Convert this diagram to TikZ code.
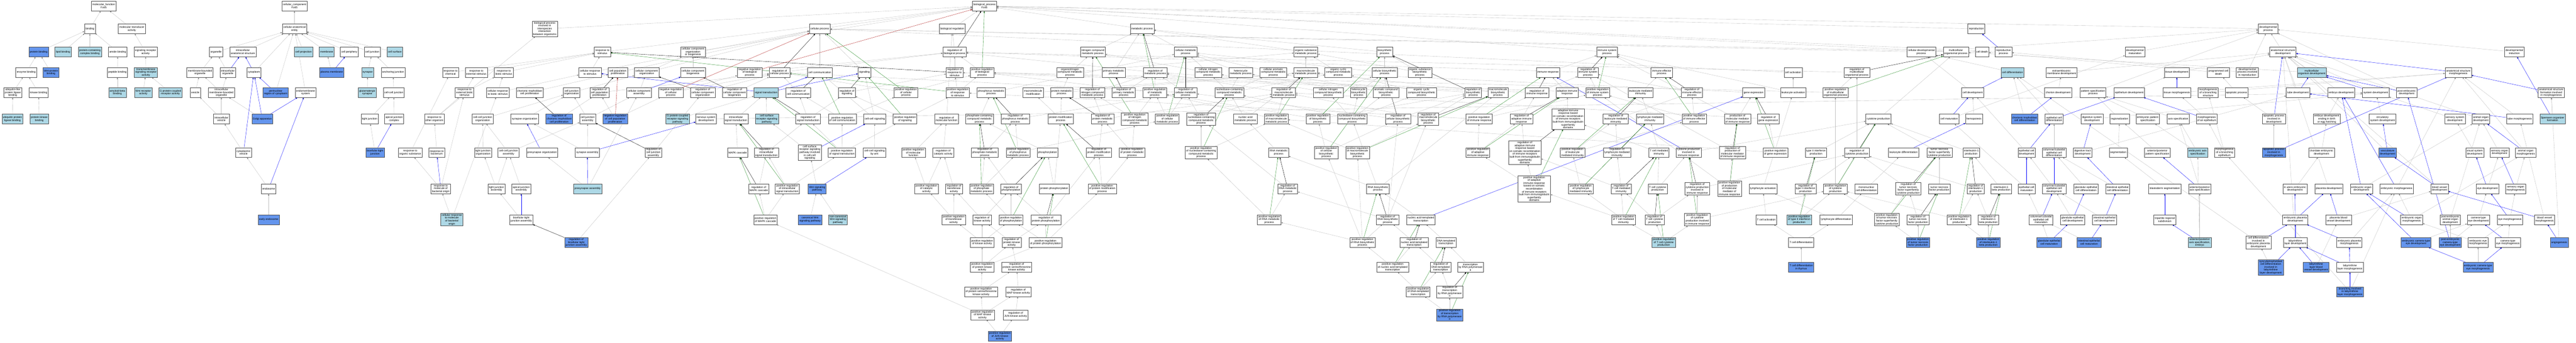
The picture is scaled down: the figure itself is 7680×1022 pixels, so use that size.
\documentclass[tikz,border=0pt]{standalone}
\usepackage{fontspec}
\setmainfont{Liberation Sans}
\usetikzlibrary{arrows.meta,backgrounds}
\definecolor{lightgo}{HTML}{ADD8E6}
\definecolor{darkgo}{HTML}{6495ED}
\definecolor{isagray}{HTML}{C0C0C0}
\definecolor{posgreen}{HTML}{228B22}
\definecolor{negred}{HTML}{B22222}
\begin{document}
\begin{tikzpicture}[x=1pt,y=-1pt,
  term/.style={draw=black!70,line width=0.7pt,fill=white,font=\fontsize{8}{8.6}\selectfont,
    align=center,inner xsep=3pt,inner ysep=2pt,minimum height=29pt},
  light/.style={term,fill=lightgo},
  dark/.style={term,fill=darkgo},
  isa/.style={draw=isagray,line width=0.6pt,-{Triangle[length=5pt,width=4pt]}},
  partof/.style={isa,draw=blue},
  regs/.style={isa,draw=black},
  posreg/.style={isa,draw=posgreen},
  negreg/.style={isa,draw=negred}]
\useasboundingbox (0,0) rectangle (7680,1022);

\node[term] (mf) at (309,18) {molecular\_function\\Fzd5};
\node[term] (bind) at (268,86) {binding};
\node[term] (mta) at (393,86) {molecular transducer\\activity};
\node[dark] (pb) at (115,155) {protein binding};
\node[light] (lipb) at (188,155) {lipid binding};
\node[light] (pccb) at (268,155) {protein-containing\\complex binding};
\node[term] (amb) at (351,155) {amide binding};
\node[term] (sra) at (434,155) {signaling receptor\\activity};
\node[term] (enzb) at (78,216) {enzyme binding};
\node[dark] (wntpb) at (152,216) {Wnt-protein\\binding};
\node[term] (pepb) at (350,216) {peptide binding};
\node[light] (tsra) at (435,216) {transmembrane\\signaling receptor\\activity};
\node[term] (ublb) at (38,276) {ubiquitin-like\\protein ligase\\binding};
\node[term] (kinb) at (115,276) {kinase binding};
\node[light] (abb) at (350,276) {amyloid-beta\\binding};
\node[light] (wntra) at (427,276) {Wnt receptor\\activity};
\node[light] (gpcra) at (508,276) {G protein-coupled\\receptor activity};
\node[light] (ubplb) at (37,355) {ubiquitin protein\\ligase binding};
\node[light] (pkb) at (117,355) {protein kinase\\binding};

\node[term] (cc) at (878,18) {cellular\_component\\Fzd5};
\node[term] (cae) at (878,86) {cellular anatomical\\entity};
\node[term] (org) at (644,155) {organelle};
\node[term] (ias) at (724,155) {intracellular\\anatomical structure};
\node[light] (cproj) at (905,155) {cell projection};
\node[light] (memb) at (974,155) {membrane};
\node[term] (cperi) at (1041,155) {cell periphery};
\node[term] (cjunc) at (1110,155) {cell junction};
\node[light] (csurf) at (1177,155) {cell surface};
\node[term] (mbo) at (596,216) {membrane-bounded\\organelle};
\node[term] (iorg) at (679,216) {intracellular\\organelle};
\node[term] (cyto) at (757,216) {cytoplasm};
\node[dark] (pmemb) at (989,216) {plasma membrane};
\node[light] (syn) at (1096,216) {synapse};
\node[term] (anchj) at (1172,216) {anchoring junction};
\node[term] (ves) at (582,276) {vesicle};
\node[term] (imbo) at (660,276) {intracellular\\membrane-bounded\\organelle};
\node[dark] (perinuc) at (822,276) {perinuclear\\region of cytoplasm};
\node[term] (endomem) at (911,276) {endomembrane\\system};
\node[light] (glusyn) at (1095,276) {glutamatergic\\synapse};
\node[term] (ccj) at (1174,276) {cell-cell junction};
\node[term] (ives) at (660,355) {intracellular\\vesicle};
\node[dark] (golgi) at (782,355) {Golgi apparatus};
\node[term] (tj) at (1102,355) {tight junction};
\node[term] (ajc) at (1175,355) {apical junction\\complex};
\node[term] (cves) at (726,455) {cytoplasmic\\vesicle};
\node[dark] (btj) at (1118,455) {bicellular tight\\junction};
\node[term] (endos) at (801,563) {endosome};
\node[dark] (eendos) at (801,655) {early endosome};

\node[term] (bp) at (2935,18) {biological\_process\\Fzd5};
\node[term] (bpii) at (1624,86) {biological process\\involved in\\interspecies\\interaction\\between organisms};
\node[term] (cp) at (2444,86) {cellular process};
\node[term] (breg) at (2839,86) {biological regulation};
\node[term] (mp) at (3405,86) {metabolic process};
\node[term] (repro) at (5892,86) {reproduction};
\node[term] (dp) at (6762,86) {developmental\\process};

\node[term] (rs) at (1796,155) {response to\\stimulus};
\node[term] (ccob) at (2066,155) {cellular component\\organization\\or biogenesis};
\node[term] (rbp) at (2846,155) {regulation of\\biological process};
\node[term] (ncmp) at (3258,155) {nitrogen compound\\metabolic process};
\node[term] (cmp) at (3535,155) {cellular metabolic\\process};
\node[term] (osmp) at (3893,155) {organic substance\\metabolic process};
\node[term] (biosp) at (4128,155) {biosynthetic\\process};
\node[term] (isp) at (4791,155) {immune system\\process};
\node[term] (cdevp) at (5728,155) {cellular developmental\\process};
\node[term] (mop) at (5831,155) {multicellular\\organismal process};
\node[term] (cdeath) at (5909,155) {cell death};
\node[term] (reprop) at (5973,155) {reproductive\\process};
\node[term] (devmat) at (6365,155) {developmental\\maturation};
\node[term] (asd) at (6806,155) {anatomical structure\\development};
\node[term] (devind) at (7496,155) {developmental\\induction};

\node[term] (rchem) at (1343,216) {response to\\chemical};
\node[term] (rext) at (1420,216) {response to\\external stimulus};
\node[term] (rbio) at (1502,216) {response to\\biotic stimulus};
\node[term] (crs) at (1759,216) {cellular response\\to stimulus};
\node[term] (cpp) at (1842,216) {cell population\\proliferation};
\node[term] (cco) at (1928,216) {cellular component\\organization};
\node[term] (ccb) at (2066,216) {cellular component\\biogenesis};
\node[term] (nrbp) at (2235,216) {negative regulation\\of biological\\process};
\node[term] (rcp) at (2324,216) {regulation of\\cellular process};
\node[term] (ccomm) at (2444,216) {cell communication};
\node[term] (sig) at (2577,216) {signaling};
\node[term] (rrs) at (2846,216) {regulation of\\response to\\stimulus};
\node[term] (prbp) at (2928,216) {positive regulation\\of biological\\process};
\node[term] (oncmp) at (3190,216) {organonitrogen\\compound metabolic\\process};
\node[term] (pmp) at (3320,216) {primary metabolic\\process};
\node[term] (rmp) at (3444,216) {regulation of\\metabolic process};
\node[term] (cncmp) at (3602,216) {cellular nitrogen\\compound metabolic\\process};
\node[term] (hmp) at (3699,216) {heterocycle\\metabolic process};
\node[term] (cacmp) at (3796,216) {cellular aromatic\\compound metabolic\\process};
\node[term] (mmp) at (3893,216) {macromolecule\\metabolic process};
\node[term] (ocmp) at (3990,216) {organic cyclic\\compound metabolic\\process};
\node[term] (cbiosp) at (4128,216) {cellular biosynthetic\\process};
\node[term] (osbp) at (4233,216) {organic substance\\biosynthetic\\process};
\node[term] (ir) at (4615,216) {immune response};
\node[term] (risp) at (4734,216) {regulation of\\immune system\\process};
\node[term] (iep) at (4954,216) {immune effector\\process};
\node[term] (cact) at (5346,216) {cell activation};
\node[term] (rmop) at (5536,216) {regulation of\\multicellular\\organismal process};
\node[light] (cdiff) at (6000,216) {cell differentiation};
\node[term] (emd) at (6146,216) {extraembryonic\\membrane development};
\node[term] (tisd) at (6490,216) {tissue development};
\node[term] (pcd) at (6614,216) {programmed cell\\death};
\node[term] (dpir) at (6700,216) {developmental\\process involved\\in reproduction};
\node[light] (modev) at (6892,216) {multicellular\\organism development};
\node[term] (asm) at (7329,216) {anatomical structure\\morphogenesis};

\node[term] (rebs) at (1385,276) {response to\\external biotic\\stimulus};
\node[term] (crbs) at (1484,276) {cellular response\\to biotic stimulus};
\node[term] (ctcp) at (1579,276) {chorionic trophoblast\\cell proliferation};
\node[term] (cjo) at (1704,276) {cell junction\\organization};
\node[term] (rcpp) at (1787,276) {regulation of\\cell population\\proliferation};
\node[term] (cca) at (1905,276) {cellular component\\assembly};
\node[term] (nrcp) at (2000,276) {negative regulation\\of cellular\\process};
\node[term] (rcco) at (2095,276) {regulation of\\cellular component\\organization};
\node[term] (rccb) at (2190,276) {regulation of\\cellular component\\biogenesis};
\node[light] (st) at (2284,276) {signal transduction};
\node[term] (rcc) at (2380,276) {regulation of\\cell communication};
\node[term] (rsig) at (2525,276) {regulation of\\signaling};
\node[term] (prcp) at (2701,276) {positive regulation\\of cellular\\process};
\node[term] (prrs) at (2855,276) {positive regulation\\of response\\to stimulus};
\node[term] (phmp) at (2955,276) {phosphorus metabolic\\process};
\node[term] (mmod) at (3080,276) {macromolecule\\modification};
\node[term] (protmp) at (3165,276) {protein metabolic\\process};
\node[term] (rncmp) at (3257,276) {regulation of\\nitrogen compound\\metabolic process};
\node[term] (rpmp) at (3350,276) {regulation of\\primary metabolic\\process};
\node[term] (prmp) at (3443,276) {positive regulation\\of metabolic\\process};
\node[term] (rcmp) at (3535,276) {regulation of\\cellular metabolic\\process};
\node[term] (nccmp) at (3665,276) {nucleobase-containing\\compound metabolic\\process};
\node[term] (rmmp) at (3827,276) {regulation of\\macromolecule\\metabolic process};
\node[term] (cncbp) at (3960,276) {cellular nitrogen\\compound biosynthetic\\process};
\node[term] (hbp) at (4050,276) {heterocycle\\biosynthetic\\process};
\node[term] (acbp) at (4132,276) {aromatic compound\\biosynthetic\\process};
\node[term] (ocbp) at (4238,276) {organic cyclic\\compound biosynthetic\\process};
\node[term] (rbiosp) at (4392,276) {regulation of\\biosynthetic\\process};
\node[term] (mbp) at (4466,276) {macromolecule\\biosynthetic\\process};
\node[term] (rir) at (4582,276) {regulation of\\immune response};
\node[term] (air) at (4672,276) {adaptive immune\\response};
\node[term] (prisp) at (4763,276) {positive regulation\\of immune system\\process};
\node[term] (lmi) at (4891,276) {leukocyte mediated\\immunity};
\node[term] (riep) at (5044,276) {regulation of\\immune effector\\process};
\node[term] (gexp) at (5228,276) {gene expression};
\node[term] (lact) at (5346,276) {leukocyte activation};
\node[term] (prmop) at (5472,276) {positive regulation\\of multicellular\\organismal process};
\node[term] (celld) at (5881,276) {cell development};
\node[term] (chord) at (6136,276) {chorion development};
\node[term] (psp) at (6240,276) {pattern specification\\process};
\node[term] (epid) at (6348,276) {epithelium development};
\node[term] (tism) at (6490,276) {tissue morphogenesis};
\node[term] (mbs) at (6583,276) {morphogenesis\\of a branching\\structure};
\node[term] (app) at (6668,276) {apoptotic process};
\node[term] (tubed) at (6851,276) {tube development};
\node[term] (embd) at (6980,276) {embryo development};
\node[term] (sysd) at (7083,276) {system development};
\node[term] (ped) at (7175,276) {post-embryonic\\development};
\node[term] (asfim) at (7606,276) {anatomical structure\\formation involved\\in morphogenesis};

\node[term] (rother) at (1295,355) {response to\\other organism};
\node[term] (ccjo) at (1439,355) {cell-cell junction\\organization};
\node[term] (synorg) at (1564,355) {synapse organization};
\node[dark] (rctcp) at (1667,355) {regulation of\\chorionic trophoblast\\cell proliferation};
\node[term] (cja) at (1752,355) {cell junction\\assembly};
\node[dark] (nrcpp) at (1834,355) {negative regulation\\of cell population\\proliferation};
\node[light] (gpcrsp) at (2020,355) {G protein-coupled\\receptor signaling\\pathway};
\node[term] (nsd) at (2105,355) {nervous system\\development};
\node[term] (ist) at (2194,355) {intracellular\\signal transduction};
\node[light] (csrsp) at (2286,355) {cell surface\\receptor signaling\\pathway};
\node[term] (rst) at (2409,355) {regulation of\\signal transduction};
\node[term] (prcc) at (2511,355) {positive regulation\\of cell communication};
\node[term] (ccs) at (2608,355) {cell-cell signaling};
\node[term] (prsig) at (2698,355) {positive regulation\\of signaling};
\node[term] (rmf) at (2822,355) {regulation of\\molecular function};
\node[term] (pccmp) at (2920,355) {phosphate-containing\\compound metabolic\\process};
\node[term] (rphmp) at (3027,355) {regulation of\\phosphorus metabolic\\process};
\node[term] (pmodp) at (3162,355) {protein modification\\process};
\node[term] (rprotmp) at (3287,355) {regulation of\\protein metabolic\\process};
\node[term] (prncmp) at (3383,355) {positive regulation\\of nitrogen\\compound metabolic\\process};
\node[term] (prcmp) at (3480,355) {positive regulation\\of cellular\\metabolic process};
\node[term] (rnccmp) at (3581,355) {regulation of\\nucleobase-containing\\compound metabolic\\process};
\node[term] (namp) at (3713,355) {nucleic acid\\metabolic process};
\node[term] (prmmp) at (3805,355) {positive regulation\\of macromolecule\\metabolic process};
\node[term] (prbiosp) at (3929,355) {positive regulation\\of biosynthetic\\process};
\node[term] (nccbp) at (4031,355) {nucleobase-containing\\compound biosynthetic\\process};
\node[term] (rcbp) at (4168,355) {regulation of\\cellular biosynthetic\\process};
\node[term] (rmbp) at (4258,355) {regulation of\\macromolecule\\biosynthetic\\process};
\node[term] (prir) at (4410,355) {positive regulation\\of immune response};
\node[term] (rair) at (4536,355) {regulation of\\adaptive immune\\response};
\node[term] (arsr) at (4675,355) {adaptive immune\\response based\\on somatic recombination\\of immune receptors\\built from immunoglobulin\\superfamily\\domains};
\node[term] (rlmi) at (4817,355) {regulation of\\leukocyte mediated\\immunity};
\node[term] (lymi) at (4919,355) {lymphocyte mediated\\immunity};
\node[term] (priep) at (5051,355) {positive regulation\\of immune effector\\process};
\node[term] (pmmir) at (5180,355) {production of\\molecular mediator\\of immune response};
\node[term] (rgexp) at (5272,355) {regulation of\\gene expression};
\node[term] (cytp) at (5600,355) {cytokine production};
\node[term] (cmat) at (5811,355) {cell maturation};
\node[term] (hemo) at (5885,355) {hemopoiesis};
\node[dark] (ctcd) at (6036,355) {chorionic trophoblast\\cell differentiation};
\node[term] (ecd) at (6124,355) {epithelial cell\\differentiation};
\node[term] (dsd) at (6237,355) {digestive system\\development};
\node[term] (regz) at (6319,355) {regionalization};
\node[term] (eps) at (6403,355) {embryonic pattern\\specification};
\node[term] (axs) at (6494,355) {axis specification};
\node[term] (moe) at (6579,355) {morphogenesis\\of an epithelium};
\node[term] (apid) at (6779,355) {apoptotic process\\involved in\\development};
\node[term] (edebe) at (6937,355) {embryo development\\ending in birth\\or egg hatching};
\node[term] (csd) at (7103,355) {circulatory\\system development};
\node[term] (ssd) at (7319,355) {sensory system\\development};
\node[term] (aod) at (7396,355) {animal organ\\development};
\node[term] (tubm) at (7512,355) {tube morphogenesis};
\node[light] (spem) at (7610,355) {Spemann organizer\\formation};

\node[term] (ros) at (1223,455) {response to\\organic substance};
\node[term] (rbact) at (1302,455) {response to\\bacterium};
\node[term] (tjo) at (1440,455) {tight junction\\organization};
\node[term] (ccja) at (1516,455) {cell-cell junction\\assembly};
\node[term] (psorg) at (1616,455) {presynapse organization};
\node[term] (syna) at (1751,455) {synapse assembly};
\node[term] (rcja) at (1948,455) {regulation of\\cell junction\\assembly};
\node[term] (mapk) at (2199,455) {MAPK cascade};
\node[term] (rist) at (2285,455) {regulation of\\intracellular\\signal transduction};
\node[term] (csccs) at (2414,455) {cell surface\\receptor signaling\\pathway involved\\in cell-cell\\signaling};
\node[term] (prst) at (2510,455) {positive regulation\\of signal transduction};
\node[term] (ccswnt) at (2607,455) {cell-cell signaling\\by wnt};
\node[term] (prmf) at (2723,455) {positive regulation\\of molecular\\function};
\node[term] (rca) at (2812,455) {regulation of\\catalytic activity};
\node[term] (rphosmp) at (2936,455) {regulation of\\phosphate metabolic\\process};
\node[term] (prphmp) at (3035,455) {positive regulation\\of phosphorus\\metabolic process};
\node[term] (phos) at (3123,455) {phosphorylation};
\node[term] (rpmodp) at (3276,455) {regulation of\\protein modification\\process};
\node[term] (prprotmp) at (3375,455) {positive regulation\\of protein metabolic\\process};
\node[term] (prnccmp) at (3581,455) {positive regulation\\of nucleobase-containing\\compound metabolic\\process};
\node[term] (rnamp) at (3812,455) {RNA metabolic\\process};
\node[term] (prcbp) at (3954,455) {positive regulation\\of cellular\\biosynthetic\\process};
\node[term] (prmbp) at (4047,455) {positive regulation\\of macromolecule\\biosynthetic\\process};
\node[term] (prair) at (4406,455) {positive regulation\\of adaptive\\immune response};
\node[term] (rarsr) at (4546,455) {regulation of\\adaptive immune\\response based\\on somatic recombination\\of immune receptors\\built from immunoglobulin\\superfamily\\domains};
\node[term] (prlmi) at (4688,455) {positive regulation\\of leukocyte\\mediated immunity};
\node[term] (rlymi) at (4821,455) {regulation of\\lymphocyte mediated\\immunity};
\node[term] (tcmi) at (4946,455) {T cell mediated\\immunity};
\node[term] (cpiir) at (5034,455) {cytokine production\\involved in\\immune response};
\node[term] (rpmmir) at (5165,455) {regulation of\\production of\\molecular mediator\\of immune response};
\node[term] (prgexp) at (5293,455) {positive regulation\\of gene expression};
\node[term] (ifnp) at (5414,455) {type II interferon\\production};
\node[term] (rcytp) at (5536,455) {regulation of\\cytokine production};
\node[term] (ldiff) at (5675,455) {leukocyte differentiation};
\node[term] (tnfsf) at (5782,455) {tumor necrosis\\factor superfamily\\cytokine production};
\node[term] (il1p) at (5877,455) {interleukin-1\\production};
\node[term] (ecdev) at (6042,455) {epithelial cell\\development};
\node[term] (ccecd) at (6124,455) {columnar/cuboidal\\epithelial cell\\differentiation};
\node[term] (dtd) at (6209,455) {digestive tract\\development};
\node[term] (segm) at (6315,455) {segmentation};
\node[term] (apps) at (6432,455) {anterior/posterior\\pattern specification};
\node[light] (eas) at (6552,455) {embryonic axis\\specification};
\node[term] (mobe) at (6632,455) {morphogenesis\\of a branching\\epithelium};
\node[dark] (apim) at (6779,455) {apoptotic process\\involved in\\morphogenesis};
\node[term] (ced) at (6921,455) {chordate embryonic\\development};
\node[dark] (vascd) at (7118,455) {vasculature\\development};
\node[term] (vsd) at (7378,455) {visual system\\development};
\node[term] (sod) at (7452,455) {sensory organ\\development};
\node[term] (aom) at (7530,455) {animal organ\\morphogenesis};

\node[term] (rmbo) at (1314,563) {response to\\molecule of\\bacterial origin};
\node[term] (tja) at (1480,563) {tight junction\\assembly};
\node[term] (aja) at (1554,563) {apical junction\\assembly};
\node[light] (psa) at (1752,563) {presynapse assembly};
\node[term] (rmapk) at (2262,563) {regulation of\\MAPK cascade};
\node[term] (prist) at (2347,563) {positive regulation\\of intracellular\\signal transduction};
\node[dark] (wntsp) at (2436,563) {Wnt signaling\\pathway};
\node[term] (prca) at (2762,563) {positive regulation\\of catalytic\\activity};
\node[term] (rta) at (2844,563) {regulation of\\transferase\\activity};
\node[term] (prphosmp) at (2926,563) {positive regulation\\of phosphate\\metabolic process};
\node[term] (rphos) at (3014,563) {regulation of\\phosphorylation};
\node[term] (pphos) at (3143,563) {protein phosphorylation};
\node[term] (prpmodp) at (3286,563) {positive regulation\\of protein modification\\process};
\node[term] (rrnamp) at (3839,563) {regulation of\\RNA metabolic\\process};
\node[term] (rnabp) at (4108,563) {RNA biosynthetic\\process};
\node[term] (prarsr) at (4574,563) {positive regulation\\of adaptive\\immune response\\based on somatic\\recombination\\of immune receptors\\built from immunoglobulin\\superfamily\\domains};
\node[term] (prlymi) at (4713,563) {positive regulation\\of lymphocyte\\mediated immunity};
\node[term] (rtcmi) at (4833,563) {regulation of\\T cell mediated\\immunity};
\node[term] (tccp) at (4942,563) {T cell cytokine\\production};
\node[term] (rcpiir) at (5060,563) {regulation of\\cytokine production\\involved in\\immune response};
\node[term] (prpmmir) at (5156,563) {positive regulation\\of production\\of molecular\\mediator of\\immune response};
\node[term] (lyact) at (5256,563) {lymphocyte activation};
\node[term] (rifnp) at (5383,563) {regulation of\\type II interferon\\production};
\node[term] (prcytp) at (5472,563) {positive regulation\\of cytokine\\production};
\node[term] (mncd) at (5564,563) {mononuclear\\cell differentiation};
\node[term] (rtnfsf) at (5689,563) {regulation of\\tumor necrosis\\factor superfamily\\cytokine production};
\node[term] (tnfp) at (5782,563) {tumor necrosis\\factor production};
\node[term] (ril1p) at (5890,563) {regulation of\\interleukin-1\\production};
\node[term] (il1bp) at (5966,563) {interleukin-1\\beta production};
\node[term] (ecmat) at (6042,563) {epithelial cell\\maturation};
\node[term] (ccecdev) at (6124,563) {columnar/cuboidal\\epithelial cell\\development};
\node[term] (gecd) at (6219,563) {glandular epithelial\\cell differentiation};
\node[term] (iecd) at (6313,563) {intestinal epithelial\\cell differentiation};
\node[term] (blseg) at (6454,563) {blastoderm segmentation};
\node[term] (apas) at (6558,563) {anterior/posterior\\axis specification};
\node[term] (iued) at (6842,563) {in utero embryonic\\development};
\node[term] (placd) at (6943,563) {placenta development};
\node[term] (eod) at (7040,563) {embryonic organ\\development};
\node[term] (embm) at (7145,563) {embryonic morphogenesis};
\node[term] (bvd) at (7273,563) {blood vessel\\development};
\node[term] (eyed) at (7416,563) {eye development};
\node[term] (som) at (7500,563) {sensory organ\\morphogenesis};

\node[light] (crmbo) at (1347,655) {cellular response\\to molecule\\of bacterial\\origin};
\node[term] (btja) at (1554,655) {bicellular tight\\junction assembly};
\node[term] (prmapk) at (2282,655) {positive regulation\\of MAPK cascade};
\node[dark] (cwnt) at (2415,655) {canonical Wnt\\signaling pathway};
\node[light] (ncwnt) at (2498,655) {non-canonical\\Wnt signaling\\pathway};
\node[term] (prta) at (2843,655) {positive regulation\\of transferase\\activity};
\node[term] (rka) at (2928,655) {regulation of\\kinase activity};
\node[term] (prphos) at (3014,655) {positive regulation\\of phosphorylation};
\node[term] (rpphos) at (3118,655) {regulation of\\protein phosphorylation};
\node[term] (prrnamp) at (3784,655) {positive regulation\\of RNA metabolic\\process};
\node[term] (rrnabp) at (4137,655) {regulation of\\RNA biosynthetic\\process};
\node[term] (natr) at (4236,655) {nucleic acid-templated\\transcription};
\node[term] (prtcmi) at (4840,655) {positive regulation\\of T cell mediated\\immunity};
\node[term] (rtccp) at (4933,655) {regulation of\\T cell cytokine\\production};
\node[term] (prcpiir) at (5060,655) {positive regulation\\of cytokine\\production involved\\in immune response};
\node[term] (tcact) at (5266,655) {T cell activation};
\node[light] (prifnp) at (5364,655) {positive regulation\\of type II interferon\\production};
\node[term] (lyd) at (5474,655) {lymphocyte differentiation};
\node[term] (prtnfsf) at (5625,655) {positive regulation\\of tumor necrosis\\factor superfamily\\cytokine production};
\node[term] (rtnfp) at (5718,655) {regulation of\\tumor necrosis\\factor production};
\node[term] (pril1p) at (5840,655) {positive regulation\\of interleukin-1\\production};
\node[term] (ril1bp) at (5928,655) {regulation of\\interleukin-1\\beta production};
\node[term] (ccecm) at (6085,655) {columnar/cuboidal\\epithelial cell\\maturation};
\node[term] (gecdev) at (6179,655) {glandular epithelial\\cell development};
\node[term] (iecdev) at (6274,655) {intestinal epithelial\\cell development};
\node[term] (trs) at (6454,655) {tripartite regional\\subdivision};
\node[term] (epd) at (6843,655) {embryonic placenta\\development};
\node[term] (pbvd) at (6972,655) {placenta blood\\vessel development};
\node[term] (eom) at (7190,655) {embryonic organ\\morphogenesis};
\node[term] (peaod) at (7305,655) {post-embryonic\\animal organ\\development};
\node[term] (ctmed) at (7389,655) {camera-type\\eye development};
\node[term] (eyem) at (7483,655) {eye morphogenesis};
\node[term] (bvm) at (7586,655) {blood vessel\\morphogenesis};

\node[dark] (rbtja) at (1718,723) {regulation of\\bicellular tight\\junction assembly};
\node[term] (prka) at (2928,723) {positive regulation\\of kinase activity};
\node[term] (rpka) at (3016,723) {regulation of\\protein kinase\\activity};
\node[term] (prpphos) at (3117,723) {positive regulation\\of protein phosphorylation};
\node[term] (prrnabp) at (4062,723) {positive regulation\\of RNA biosynthetic\\process};
\node[term] (rnatr) at (4216,723) {regulation of\\nucleic acid-templated\\transcription};
\node[term] (dtr) at (4311,723) {DNA-templated\\transcription};
\node[light] (prtccp) at (4960,723) {positive regulation\\of T cell cytokine\\production};
\node[term] (tcd) at (5370,723) {T cell differentiation};
\node[dark] (prtnfp) at (5718,723) {positive regulation\\of tumor necrosis\\factor production};
\node[dark] (pril1bp) at (5928,723) {positive regulation\\of interleukin-1\\beta production};
\node[dark] (gecm) at (6109,723) {glandular epithelial\\cell maturation};
\node[dark] (iecm) at (6228,723) {intestinal epithelial\\cell maturation};
\node[light] (apase) at (6558,723) {anterior/posterior\\axis specification,\\embryo};
\node[term] (cdiepd) at (6733,723) {cell differentiation\\involved in\\embryonic placenta\\development};
\node[term] (lld) at (6843,723) {labyrinthine\\layer development};
\node[term] (epm) at (7004,723) {embryonic placenta\\morphogenesis};
\node[dark] (ectmed) at (7203,723) {embryonic camera-type\\eye development};
\node[dark] (pectmed) at (7305,723) {post-embryonic\\camera-type\\eye development};
\node[term] (eem) at (7388,723) {embryonic eye\\morphogenesis};
\node[term] (ctem) at (7477,723) {camera-type\\eye morphogenesis};
\node[dark] (angio) at (7630,723) {angiogenesis};

\node[term] (prpka) at (2928,797) {positive regulation\\of protein kinase\\activity};
\node[term] (rpstka) at (3031,797) {regulation of\\protein serine/threonine\\kinase activity};
\node[term] (prnatr) at (4152,797) {positive regulation\\of nucleic acid-templated\\transcription};
\node[term] (rdtr) at (4295,797) {regulation of\\DNA-templated\\transcription};
\node[term] (trp2) at (4384,797) {transcription\\by RNA polymerase\\II};
\node[dark] (tcdt) at (5370,797) {T cell differentiation\\in thymus};
\node[dark] (stcd) at (6770,797) {syncytiotrophoblast\\cell differentiation\\involved in\\labyrinthine\\layer development};
\node[dark] (llbvd) at (6905,797) {labyrinthine\\layer blood\\vessel development};
\node[term] (llm) at (7006,797) {labyrinthine\\layer morphogenesis};
\node[dark] (ectem) at (7388,797) {embryonic camera-type\\eye morphogenesis};

\node[term] (prpstka) at (2925,870) {positive regulation\\of protein serine/threonine\\kinase activity};
\node[term] (rmapka) at (3036,870) {regulation of\\MAP kinase activity};
\node[term] (prdtr) at (4228,870) {positive regulation\\of DNA-templated\\transcription};
\node[term] (rtrp2) at (4322,870) {regulation of\\transcription\\by RNA polymerase\\II};
\node[dark] (bill) at (7006,870) {branching involved\\in labyrinthine\\layer morphogenesis};
\node[term] (prmapka) at (2929,939) {positive regulation\\of MAP kinase\\activity};
\node[term] (rjnka) at (3028,939) {regulation of\\JUN kinase activity};
\node[dark] (prtrp2) at (4322,939) {positive regulation\\of transcription\\by RNA polymerase\\II};
\node[dark] (prjnka) at (2981,1003) {positive regulation\\of JUN kinase\\activity};

\begin{pgfonlayer}{background}
\fill[white] (0,0) rectangle (7680,1022);
\path[isa] (bind) edge (mf) (mta) edge (mf) (pb) edge (bind) (lipb) edge (bind) (pccb) edge (bind)
  (amb) edge (bind) (sra) edge (mta) (enzb) edge (pb) (wntpb) edge (pb) (pepb) edge (amb)
  (tsra) edge (sra) (ublb) edge (enzb) (kinb) edge (enzb) (abb) edge (pepb) (wntra) edge (tsra)
  (gpcra) edge (tsra) (ubplb) edge (ublb) (pkb) edge (kinb);
\path[isa] (cae) edge (cc) (org) edge (cae) (ias) edge (cae) (cyto) edge (cae) (perinuc) edge (cae)
  (endomem) edge (cae) (cproj) edge (cae) (memb) edge (cae) (cperi) edge (cae) (cjunc) edge (cae)
  (csurf) edge (cae) (mbo) edge (org) (iorg) edge (org) (pmemb) edge (memb) (syn) edge (cjunc)
  (anchj) edge (cjunc) (ves) edge (mbo) (imbo) edge (mbo) (imbo) edge (iorg) (glusyn) edge (syn)
  (ccj) edge (anchj) (ives) edge (ves) (ives) edge (imbo) (golgi) edge (imbo) (tj) edge (ccj)
  (ajc) edge (ccj) (cves) edge (ives) (btj) edge (tj) (endos) edge (cves) (eendos) edge (endos);
\path[partof] (iorg) edge (ias) (cyto) edge (ias) (pmemb) edge (cperi) (perinuc) edge (cyto)
  (golgi) edge (cyto) (golgi) edge (endomem) (cves) edge (cyto) (btj) edge (ajc) (endos) edge (endomem);

\path[isa] (bpii) edge (bp) (rs) edge (bp) (cp) edge (bp) (breg) edge (bp) (mp) edge (bp)
  (repro) edge (bp) (dp) edge (bp) (isp) edge (bp) (mop) edge (bp) (ccob) edge (bp) (reprop) edge (bp)
  (rchem) edge (rs) (rext) edge (rs) (rbio) edge (rs) (crs) edge (rs) (crs) edge (cp) (cpp) edge (cp)
  (ros) edge (rchem) (rebs) edge (rext) (rebs) edge (rbio) (crbs) edge (rbio) (crbs) edge (crs)
  (rother) edge (rebs) (rother) edge (bpii) (rbact) edge (rother) (rmbo) edge (rebs) (rmbo) edge (ros)
  (crmbo) edge (rmbo) (crmbo) edge (crbs) (ctcp) edge (cpp) (rctcp) edge (rcpp) (rcpp) edge (rcp)
  (nrcpp) edge (rcpp) (nrcpp) edge (nrcp) (cco) edge (ccob) (cco) edge (cp) (ccb) edge (ccob)
  (cca) edge (cco) (cjo) edge (cco) (ccjo) edge (cjo) (synorg) edge (cjo) (cja) edge (cjo)
  (cja) edge (cca) (tjo) edge (ccjo) (ccja) edge (ccjo) (ccja) edge (cja) (syna) edge (synorg)
  (syna) edge (cja) (tja) edge (tjo) (tja) edge (ccja) (aja) edge (ccja) (btja) edge (tja)
  (psa) edge (psorg) (psa) edge (cca) (rbtja) edge (rcja) (rcja) edge (rcco) (nrcp) edge (nrbp)
  (nrcp) edge (rcp) (nrbp) edge (rbp) (rcp) edge (rbp) (ccomm) edge (cp) (rcco) edge (rcp)
  (rccb) edge (rcp) (rcc) edge (rcp) (gpcrsp) edge (st) (nsd) edge (sysd) (ist) edge (st)
  (csrsp) edge (st) (rst) edge (rcc) (rst) edge (rsig) (prcc) edge (rcc) (prcc) edge (prcp)
  (mapk) edge (ist) (rist) edge (rst) (csccs) edge (csrsp) (prst) edge (rst) (prst) edge (prcc)
  (prst) edge (prsig) (rmapk) edge (rist) (prist) edge (rist) (prist) edge (prst) (wntsp) edge (csccs)
  (prmapk) edge (rmapk) (prmapk) edge (prist) (cwnt) edge (wntsp) (ncwnt) edge (wntsp);
\path[isa] (rbp) edge (breg) (prbp) edge (rbp) (rrs) edge (rbp) (prrs) edge (rrs) (prrs) edge (prbp)
  (prcp) edge (prbp) (prcp) edge (rcp) (sig) edge (cp) (rsig) edge (rrs) (ccs) edge (sig)
  (ccs) edge (ccomm) (prsig) edge (rsig) (prsig) edge (prrs) (ccswnt) edge (ccs) (rmf) edge (breg)
  (prmf) edge (rmf) (rca) edge (rmf) (prca) edge (prmf) (prca) edge (rca) (rta) edge (rca)
  (prta) edge (rta) (prta) edge (prca) (phmp) edge (cmp) (pccmp) edge (phmp) (rphmp) edge (rcmp)
  (rphosmp) edge (rphmp) (prphmp) edge (rphmp) (prphmp) edge (prcmp) (prphosmp) edge (rphosmp)
  (prphosmp) edge (prphmp) (phos) edge (pccmp) (rphos) edge (rphosmp) (pphos) edge (phos)
  (pphos) edge (pmodp) (prphos) edge (rphos) (prphos) edge (prphosmp) (rpphos) edge (rphos)
  (rpphos) edge (rpmodp) (prpphos) edge (rpphos) (prpphos) edge (prphos) (prpphos) edge (prpmodp)
  (rka) edge (rta) (rka) edge (rphos) (prka) edge (rka) (prka) edge (prta) (prka) edge (prphos)
  (rpka) edge (rka) (rpka) edge (rpphos) (prpka) edge (prka) (prpka) edge (rpka) (prpka) edge (prpphos)
  (rpstka) edge (rpka) (prpstka) edge (prpka) (prpstka) edge (rpstka) (rmapka) edge (rpstka)
  (prmapka) edge (prpstka) (prmapka) edge (rmapka) (prmapka) edge (prmapk) (rjnka) edge (rmapka)
  (prjnka) edge (prmapka) (prjnka) edge (rjnka);
\path[isa] (mmod) edge (mmp) (pmodp) edge (mmod) (pmodp) edge (protmp) (protmp) edge (oncmp)
  (protmp) edge (mmp) (oncmp) edge (ncmp) (oncmp) edge (osmp) (ncmp) edge (mp) (cmp) edge (mp)
  (pmp) edge (mp) (rmp) edge (rbp) (prmp) edge (rmp) (prmp) edge (prbp) (rncmp) edge (rmp)
  (rpmp) edge (rmp) (rcmp) edge (rmp) (rcmp) edge (rcp) (cncmp) edge (cmp) (cncmp) edge (ncmp)
  (hmp) edge (cmp) (cacmp) edge (cmp) (nccmp) edge (cncmp) (nccmp) edge (hmp) (nccmp) edge (cacmp)
  (nccmp) edge (ocmp) (rnccmp) edge (rcmp) (rnccmp) edge (rmmp) (prnccmp) edge (rnccmp)
  (prnccmp) edge (prmmp) (namp) edge (nccmp) (namp) edge (mmp) (rnamp) edge (namp)
  (rrnamp) edge (rnccmp) (prrnamp) edge (rrnamp) (prrnamp) edge (prnccmp) (rprotmp) edge (rmmp)
  (rprotmp) edge (rncmp) (prncmp) edge (rncmp) (prncmp) edge (prmp) (prcmp) edge (rcmp)
  (prcmp) edge (prmp) (rpmodp) edge (rprotmp) (prprotmp) edge (rprotmp) (prprotmp) edge (prncmp)
  (prpmodp) edge (rpmodp) (prpmodp) edge (prprotmp) (osmp) edge (mp) (mmp) edge (osmp)
  (ocmp) edge (osmp) (biosp) edge (mp) (cbiosp) edge (biosp) (cbiosp) edge (cmp) (osbp) edge (biosp)
  (osbp) edge (osmp) (rbiosp) edge (rmp) (mbp) edge (mmp) (rmmp) edge (rmp) (prmmp) edge (rmmp)
  (prmmp) edge (prmp) (cncbp) edge (cbiosp) (cncbp) edge (cncmp) (hbp) edge (cbiosp) (hbp) edge (hmp)
  (acbp) edge (cbiosp) (acbp) edge (cacmp) (ocbp) edge (osbp) (ocbp) edge (ocmp) (prbiosp) edge (rbiosp)
  (prbiosp) edge (prmp) (nccbp) edge (nccmp) (nccbp) edge (cncbp) (nccbp) edge (hbp) (nccbp) edge (acbp)
  (nccbp) edge (ocbp) (rcbp) edge (rbiosp) (rcbp) edge (rcmp) (rmbp) edge (rbiosp) (rmbp) edge (rmmp)
  (prcbp) edge (prbiosp) (prcbp) edge (rcbp) (prmbp) edge (rmbp) (prmbp) edge (prmmp)
  (rnabp) edge (nccbp) (rnabp) edge (rnamp) (rnabp) edge (mbp) (rrnabp) edge (rrnamp)
  (rrnabp) edge (rcbp) (rrnabp) edge (rmbp) (natr) edge (rnabp) (prrnabp) edge (rrnabp)
  (prrnabp) edge (prrnamp) (prrnabp) edge (prcbp) (prrnabp) edge (prmbp) (rnatr) edge (rrnabp)
  (dtr) edge (natr) (prnatr) edge (prrnabp) (prnatr) edge (rnatr) (rdtr) edge (rnatr) (trp2) edge (dtr)
  (prdtr) edge (prnatr) (prdtr) edge (rdtr) (rtrp2) edge (rdtr) (prtrp2) edge (rtrp2) (prtrp2) edge (prdtr);
\path[isa] (ir) edge (isp) (risp) edge (rbp) (prisp) edge (risp) (prisp) edge (prbp) (iep) edge (isp)
  (rir) edge (risp) (rir) edge (rrs) (air) edge (ir) (prir) edge (rir) (prir) edge (prisp) (prir) edge (prrs)
  (lmi) edge (iep) (riep) edge (risp) (priep) edge (riep) (priep) edge (prisp) (rair) edge (rir)
  (arsr) edge (air) (rlmi) edge (riep) (lymi) edge (lmi) (rarsr) edge (rair) (prair) edge (rair)
  (prair) edge (prir) (prlmi) edge (rlmi) (prlmi) edge (priep) (rlymi) edge (rlmi) (tcmi) edge (lymi)
  (tcmi) edge (arsr) (cpiir) edge (cytp) (prarsr) edge (rarsr) (prarsr) edge (prair) (prlymi) edge (rlymi)
  (prlymi) edge (prlmi) (rtcmi) edge (rlymi) (rtcmi) edge (rarsr) (tccp) edge (tcmi) (tccp) edge (cpiir)
  (rcpiir) edge (rcytp) (prtcmi) edge (rtcmi) (prtcmi) edge (prlymi) (prtcmi) edge (prarsr)
  (rtccp) edge (rcpiir) (rtccp) edge (rtcmi) (prcpiir) edge (rcpiir) (prcpiir) edge (prcytp)
  (prtccp) edge (rtccp) (prtccp) edge (prtcmi) (prtccp) edge (prcpiir) (gexp) edge (mmp)
  (pmmir) edge (isp) (pmmir) edge (gexp) (rgexp) edge (rmmp) (prgexp) edge (rgexp) (prgexp) edge (prmmp)
  (rpmmir) edge (risp) (prpmmir) edge (rpmmir) (prpmmir) edge (prisp) (cact) edge (cp) (lact) edge (cact)
  (lact) edge (isp) (lyact) edge (lact) (tcact) edge (lyact) (rmop) edge (rbp) (prmop) edge (rmop)
  (prmop) edge (prbp) (cytp) edge (mop) (ifnp) edge (cytp) (rifnp) edge (rcytp) (prifnp) edge (rifnp)
  (prifnp) edge (prcytp) (rcytp) edge (rmop) (prcytp) edge (rcytp) (prcytp) edge (prmop)
  (mncd) edge (ldiff) (lyd) edge (mncd) (lyd) edge (lyact) (tcd) edge (tcact) (tcd) edge (lyd)
  (tcdt) edge (tcd) (tnfsf) edge (cytp) (rtnfsf) edge (rcytp) (prtnfsf) edge (rtnfsf) (prtnfsf) edge (prcytp)
  (tnfp) edge (tnfsf) (rtnfp) edge (rtnfsf) (prtnfp) edge (rtnfp) (prtnfp) edge (prtnfsf) (il1p) edge (cytp)
  (ril1p) edge (rcytp) (pril1p) edge (ril1p) (pril1p) edge (prcytp) (il1bp) edge (il1p) (ril1bp) edge (ril1p)
  (pril1bp) edge (ril1bp) (pril1bp) edge (pril1p);
\path[isa] (cdevp) edge (cp) (cdevp) edge (dp) (cdeath) edge (cp) (devmat) edge (dp) (cdiff) edge (cdevp)
  (celld) edge (cdevp) (cmat) edge (devmat) (hemo) edge (celld) (ctcd) edge (cdiff) (ecd) edge (cdiff)
  (emd) edge (asd) (chord) edge (emd) (psp) edge (dp) (epid) edge (tisd) (ecdev) edge (celld)
  (ccecd) edge (ecd) (dsd) edge (sysd) (dtd) edge (tubed) (regz) edge (psp) (segm) edge (regz)
  (ecmat) edge (cmat) (ccecdev) edge (ecdev) (gecd) edge (ccecd) (iecd) edge (ccecd) (ccecm) edge (ecmat)
  (gecdev) edge (ccecdev) (iecdev) edge (ccecdev) (gecm) edge (ccecm) (iecm) edge (ccecm)
  (asd) edge (dp) (tisd) edge (asd) (modev) edge (asd) (modev) edge (mop) (pcd) edge (cdeath)
  (app) edge (pcd) (dpir) edge (dp) (dpir) edge (reprop) (tubed) edge (asd) (embd) edge (asd)
  (tism) edge (asm) (mbs) edge (asm) (eps) edge (psp) (axs) edge (psp) (moe) edge (tism)
  (apid) edge (app) (edebe) edge (embd) (apps) edge (regz) (eas) edge (axs) (eas) edge (eps)
  (mobe) edge (moe) (mobe) edge (mbs) (apim) edge (apid) (ced) edge (edebe) (blseg) edge (segm)
  (apas) edge (axs) (iued) edge (ced) (placd) edge (asd) (pbvd) edge (bvd) (apase) edge (apas)
  (apase) edge (eas) (cdiepd) edge (cdiff) (lld) edge (asd) (epm) edge (embm) (stcd) edge (cdiepd)
  (llbvd) edge (pbvd) (bill) edge (mobe) (bill) edge (embm) (sysd) edge (asd) (ped) edge (dp)
  (devind) edge (dp) (spem) edge (asfim) (csd) edge (sysd) (ssd) edge (sysd) (aod) edge (asd)
  (tubm) edge (asm) (vascd) edge (asd) (vsd) edge (ssd) (sod) edge (aod) (aom) edge (asm)
  (eod) edge (aod) (embm) edge (asm) (bvd) edge (asd) (eyed) edge (sod) (som) edge (aom)
  (eom) edge (embm) (eom) edge (aom) (peaod) edge (aod) (ctmed) edge (eyed) (eyem) edge (som)
  (bvm) edge (tubm) (ectmed) edge (ctmed) (pectmed) edge (peaod) (pectmed) edge (ctmed)
  (eem) edge (eom) (eem) edge (eyem) (ctem) edge (eyem) (angio) edge (asfim) (ectem) edge (eem);
\path[partof] (rmbo) edge (rbact) (cca) edge (ccb) (btja) edge (aja) (psorg) edge (synorg)
  (psa) edge (syna) (syna) edge (nsd) (st) edge (ccomm) (st) edge (crs) (st) edge (sig)
  (csccs) edge (ccs) (wntsp) edge (ccswnt) (natr) edge (gexp) (cpiir) edge (ir) (ldiff) edge (hemo)
  (reprop) edge (repro) (celld) edge (cdiff) (cmat) edge (celld) (ctcd) edge (chord) (ecd) edge (epid)
  (ecdev) edge (ecd) (dtd) edge (dsd) (ecmat) edge (ecdev) (ccecdev) edge (ccecd) (iecd) edge (dtd)
  (ccecm) edge (ccecdev) (gecdev) edge (gecd) (iecdev) edge (iecd) (gecm) edge (gecdev)
  (iecm) edge (iecdev) (tubed) edge (modev) (tism) edge (tisd) (moe) edge (epid) (apid) edge (asd)
  (apim) edge (asm) (trs) edge (blseg) (apas) edge (apps) (epd) edge (iued) (epd) edge (placd)
  (pbvd) edge (placd) (apase) edge (trs) (cdiepd) edge (epd) (lld) edge (epd) (epm) edge (epd)
  (stcd) edge (lld) (llbvd) edge (lld) (llm) edge (lld) (llm) edge (epm) (bill) edge (llm)
  (sysd) edge (modev) (ped) edge (modev) (asm) edge (asd) (asfim) edge (asm) (spem) edge (devind)
  (tubm) edge (tubed) (vascd) edge (csd) (aom) edge (aod) (eod) edge (embd) (embm) edge (embd)
  (bvd) edge (vascd) (eyed) edge (vsd) (som) edge (sod) (eom) edge (eod) (eyem) edge (eyed)
  (bvm) edge (bvd) (ectmed) edge (eod) (pectmed) edge (ped) (ctem) edge (ctmed) (angio) edge (bvm)
  (ectem) edge (ectmed) (ectem) edge (ctem);
\path[regs] (rctcp) edge (ctcp) (rcpp) edge (cpp) (rbtja) edge (btja) (rcja) edge (cja) (rcp) edge (cp)
  (rcco) edge (cco) (rccb) edge (ccb) (rcc) edge (ccomm) (rst) edge (st) (rist) edge (ist)
  (rmapk) edge (mapk) (rbp) edge (bp) (rrs) edge (rs) (rsig) edge (sig) (rphmp) edge (phmp)
  (rphosmp) edge (pccmp) (rphos) edge (phos) (rpphos) edge (pphos) (rmp) edge (mp) (rncmp) edge (ncmp)
  (rpmp) edge (pmp) (rcmp) edge (cmp) (rnccmp) edge (nccmp) (rrnamp) edge (rnamp) (rprotmp) edge (protmp)
  (rpmodp) edge (pmodp) (rbiosp) edge (biosp) (rmmp) edge (mmp) (rcbp) edge (cbiosp) (rmbp) edge (mbp)
  (rrnabp) edge (rnabp) (rnatr) edge (natr) (rdtr) edge (dtr) (rtrp2) edge (trp2) (risp) edge (isp)
  (rir) edge (ir) (riep) edge (iep) (rair) edge (air) (rlmi) edge (lmi) (rarsr) edge (arsr)
  (rlymi) edge (lymi) (rtcmi) edge (tcmi) (rcpiir) edge (cpiir) (rtccp) edge (tccp) (rgexp) edge (gexp)
  (rpmmir) edge (pmmir) (rmop) edge (mop) (rifnp) edge (ifnp) (rcytp) edge (cytp) (rtnfsf) edge (tnfsf)
  (rtnfp) edge (tnfp) (ril1p) edge (il1p) (ril1bp) edge (il1bp);
\path[posreg] (prcc) edge (ccomm) (prst) edge (st) (prist) edge (ist) (prmapk) edge (mapk)
  (prbp) edge (bp) (prrs) edge (rs) (prcp) edge (cp) (prsig) edge (sig) (prphmp) edge (phmp)
  (prphosmp) edge (pccmp) (prphos) edge (phos) (prpphos) edge (pphos) (prmp) edge (mp)
  (prncmp) edge (ncmp) (prcmp) edge (cmp) (prnccmp) edge (nccmp) (prrnamp) edge (rnamp)
  (prpmodp) edge (pmodp) (prmmp) edge (mmp) (prbiosp) edge (biosp) (prcbp) edge (cbiosp)
  (prmbp) edge (mbp) (prrnabp) edge (rnabp) (prnatr) edge (natr) (prdtr) edge (dtr) (prtrp2) edge (trp2)
  (prisp) edge (isp) (prir) edge (ir) (priep) edge (iep) (prair) edge (air) (prlmi) edge (lmi)
  (prarsr) edge (arsr) (prlymi) edge (lymi) (prtcmi) edge (tcmi) (prcpiir) edge (cpiir)
  (prtccp) edge (tccp) (prgexp) edge (gexp) (prpmmir) edge (pmmir) (prmop) edge (mop)
  (prifnp) edge (ifnp) (prcytp) edge (cytp) (prtnfsf) edge (tnfsf) (prtnfp) edge (tnfp)
  (pril1p) edge (il1p) (pril1bp) edge (il1bp);
\path[negreg] (nrcpp) edge (cpp) (nrcp) edge (cp) (nrbp) edge (bp);
\end{pgfonlayer}
\end{tikzpicture}
\end{document}
